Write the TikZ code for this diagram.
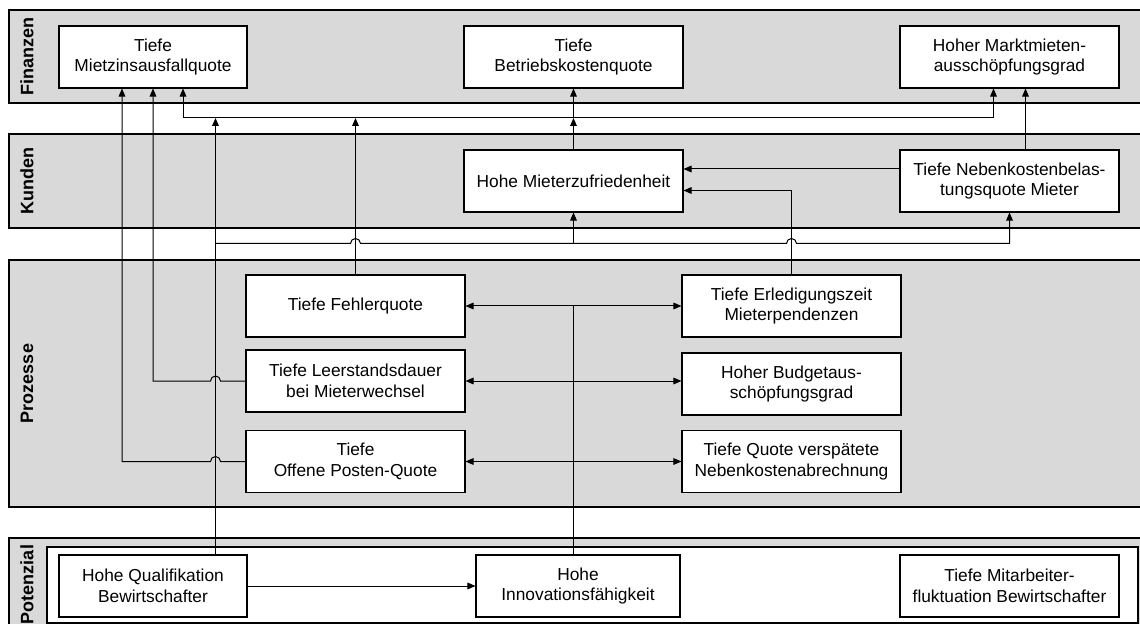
\documentclass[tikz,border=0pt]{standalone}
\usepackage{fontspec}
\setmainfont{Liberation Sans}
\usepackage{tikz}
\usetikzlibrary{arrows.meta,calc}

\definecolor{bandgray}{RGB}{217,217,217}
\newcommand{\kpifont}{\fontsize{13}{15.5}\selectfont}
\newcommand{\lanefont}{\bfseries\fontsize{13.5}{16}\selectfont}

\tikzset{
  lane/.style={draw=black, fill=bandgray, line width=0.8pt},
  lanelabel/.style={rotate=90, font=\lanefont, inner sep=0pt},
  kpi/.style={draw, fill=white, line width=0.8pt, align=center, font=\kpifont, minimum height=46.5pt, inner sep=1pt},
  conn/.style={line width=0.75pt, -{Triangle[length=6pt,width=5pt]}},
  dconn/.style={line width=0.75pt, {Triangle[length=6pt,width=5pt]}-{Triangle[length=6pt,width=5pt]}},
  wire/.style={line width=0.75pt}
}

\begin{document}
\begin{tikzpicture}[x=0.75pt,y=0.75pt,yscale=-1,xscale=1]
\useasboundingbox (0,0) rectangle (1140,624);
\clip (0,0) rectangle (1140,624);

%Lanes
\draw[lane] (9,10) rectangle (1150,103);
\draw[lane] (9,134) rectangle (1150,228);
\draw[lane] (9,260) rectangle (1150,507);
\draw[lane] (9,538) rectangle (1150,632);
\draw[line width=0.8pt, fill=white] (47,547) rectangle (1138,623);

% Lane labels
\node[lanelabel] (lfin) at (27,56.5) {Finanzen};
\node[lanelabel] (lkun) at (27,181) {Kunden};
\node[lanelabel] (lpro) at (27,383.5) {Prozesse};
\node[lanelabel] (lpot) at (27,584.5) {Potenzial};

% Finanzen
\node[kpi, minimum width=141pt] (mza) at (153,57) {Tiefe\\Mietzinsausfallquote};
\node[kpi, minimum width=164.25pt] (bkq) at (573.5,57) {Tiefe\\Betriebskostenquote};
\node[kpi, minimum width=164.25pt] (mmg) at (1009.5,57) {Hoher Marktmieten-\\ausschöpfungsgrad};
% Kunden
\node[kpi, minimum width=164.25pt] (mzf) at (573.5,181) {Hohe Mieterzufriedenheit};
\node[kpi, minimum width=164.25pt] (nkb) at (1009.5,181) {Tiefe Nebenkostenbelas-\\tungsquote Mieter};
% Prozesse
\node[kpi, minimum width=164.25pt] (feq) at (355.5,306) {Tiefe Fehlerquote};
\node[kpi, minimum width=164.25pt] (lsd) at (355.5,381) {Tiefe Leerstandsdauer\\bei Mieterwechsel};
\node[kpi, minimum width=164.25pt] (opq) at (355.5,461.5) {Tiefe\\Offene Posten-Quote};
\node[kpi, minimum width=164.25pt] (erl) at (791.5,306) {Tiefe Erledigungszeit\\Mieterpendenzen};
\node[kpi, minimum width=164.25pt] (bud) at (791.5,384) {Hoher Budgetaus-\\schöpfungsgrad};
\node[kpi, minimum width=164.25pt] (qvn) at (791.5,461.5) {Tiefe Quote verspätete\\Nebenkostenabrechnung};
% Potenzial
\node[kpi, minimum width=141pt] (qual) at (153,586) {Hohe Qualifikation\\Bewirtschafter};
\node[kpi, minimum width=153pt] (inno) at (578,586) {Hohe\\Innovationsfähigkeit};
\node[kpi, minimum width=164.25pt] (mfl) at (1009.5,586) {Tiefe Mitarbeiter-\\fluktuation Bewirtschafter};

% Hilfspunkte
\coordinate (fbus) at (0,118);
\coordinate (kbus) at (0,243.5);
\coordinate (qcol) at (215.5,0);
\coordinate (mzaL) at ($(mza.south)+(-31,0)$);
\coordinate (mzaR) at ($(mza.south)+(30,0)$);
\coordinate (mmgL) at ($(mmg.south)+(-16,0)$);
\coordinate (mmgR) at ($(mmg.south)+(16,0)$);
\coordinate (mzfA) at ($(mzf.east)+(0,-12)$);
\coordinate (mzfB) at ($(mzf.east)+(0,9.5)$);

%Bus Finanzen
\draw[conn] (bkq.south |- fbus) -| (mzaR);
\draw[conn] (bkq.south |- fbus) -| (mmgL);
\draw[conn] (bkq.south |- fbus) -- (bkq.south);
\draw[conn] (qual.north -| qcol) -- (qcol |- fbus);
\draw[conn] (mzf.north) -- (mzf.north |- fbus);
\draw[conn] (feq.north) -- (feq.north |- fbus);
\draw[conn] (nkb.north -| mmgR) -- (mmgR);

%Kunden
\draw[conn] (mzfA -| nkb.west) -- (mzfA);
\draw[conn] (erl.north) -- (erl.north |- mzfB) -- (mzfB);

%Bus Kunden
\draw[conn] (qcol |- kbus) -- ($(feq.north |- kbus)+(-5,0)$) arc[start angle=180, end angle=360, radius=5]
  -- ($(erl.north |- kbus)+(-5,0)$) arc[start angle=180, end angle=360, radius=5]
  -- (nkb.south |- kbus) -- (nkb.south);
\draw[conn] (mzf.south |- kbus) -- (mzf.south);

%Prozesse -> Mietzinsausfall
\draw[conn] (lsd.west) -- ($(lsd.west -| qcol)+(5,0)$) arc[start angle=0, end angle=-180, radius=5]
  -- (lsd.west -| mza.south) -- (mza.south);
\draw[conn] (opq.west) -- ($(opq.west -| qcol)+(5,0)$) arc[start angle=0, end angle=-180, radius=5]
  -- (opq.west -| mzaL) -- (mzaL);

%Prozesse
\draw[wire] (inno.north -| bkq.south) -- (feq.east -| bkq.south);
\draw[dconn] (feq.east) -- (erl.west);
\draw[dconn] (lsd.east) -- (lsd.east -| bud.west);
\draw[dconn] (opq.east) -- (qvn.west);

%Potenzial
\draw[conn] (qual.east) -- (qual.east -| inno.west);

\end{tikzpicture}
\end{document}
